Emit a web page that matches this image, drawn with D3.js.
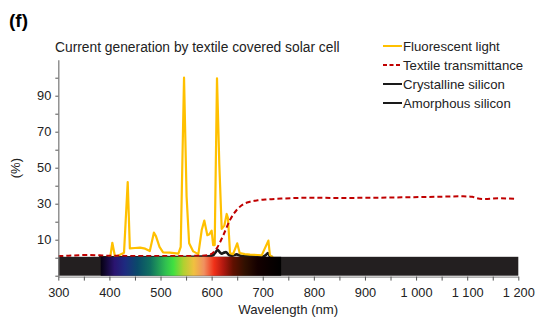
<!DOCTYPE html>
<html>
<head>
<meta charset="utf-8">
<script src="https://cdn.jsdelivr.net/npm/d3@7"></script>
<style>
  body { margin: 0; background: #fff; }
  text { font-family: Arial, "Liberation Sans", sans-serif; }
</style>
</head>
<body>
<div id="chart"></div>
<script>
// wavelength (nm) / value (%) pairs
let fluoWl  = [398, 402, 405.7, 411, 420, 428.6, 435.8, 440, 450, 460, 470, 479, 487, 491, 498, 505, 518, 535, 539.5, 546, 551, 556, 564, 574, 580.6, 585.7, 591.6, 595.5, 600, 603, 606, 610.5, 615, 619.7, 625, 629.5, 632, 636, 642, 650, 655, 665, 675, 690, 698, 703, 711, 714, 720];
let fluoVal = [0,   1,   8.3,   0.5, 1.5, 2.8,   42,    5.2, 5.4, 5.6, 5,   3.7, 13.9, 12, 6,   3,   2.8, 2.3, 6,     100, 34,  8,   3.5, 2,   15.4,  20.6,  12.5,  13,    15,  7,   7,   99.7,  52,  16,    18,  24.3,  22,  2.5, 2,   8,   2.5, 2,   1.7, 1.5, 1.3, 4.5, 9.5, 1.5, 0];

let textWl  = [300, 320, 340, 360, 380, 400, 450, 500, 550, 580, 597, 610, 623, 636, 649, 662, 675, 690, 708, 740, 786, 850, 909, 1007, 1050, 1092, 1110, 1119, 1132, 1164, 1197];
let textVal = [0.9, 1.1, 1.4, 1.5, 1.3, 1.1, 1,   1,   1,   1.1, 1.8, 5.2, 12.6, 21, 26.5, 29.7, 31.1, 31.9, 32.4, 32.9, 33.3, 33.2, 33.3, 33.7, 33.9, 34.1, 33.8, 33,  32.6, 33,  32.6];

let siWl    = [380, 450, 550, 590, 603, 607, 612, 616, 619.7, 624, 628, 634.6, 640, 649, 655, 661, 680, 701, 706, 710, 714, 720];
let cSiVal  = [0.4, 0.4, 0.5, 0.8, 1.5, 3,   4.6, 3.2, 2.4,   3,   3.3, 1.5,   1.2, 2,   1.4, 1,   0.9, 0.8, 1.6, 2.8, 0.8, 0.4];
let aSiVal  = [0.3, 0.3, 0.4, 0.6, 1.2, 2.5, 4,   2.8, 2,     2.6, 2.9, 1.2,   1,   1.7, 1.1, 0.8, 0.7, 0.6, 1.3, 2.4, 0.6, 0.3];

let legendNames = ["Fluorescent light", "Textile transmittance", "Crystalline silicon", "Amorphous silicon"];
let xTicks = d3.range(300, 1201, 50);
let xLabels = [300, 400, 500, 600, 700, 800, 900, 1000, 1100, 1200];
let yTicks = d3.range(-10, 101, 10);
let yLabels = [10, 30, 50, 70, 90];

// visible spectrum colours across the bar
let specWl  = [383, 410, 430, 455, 480, 510, 525, 545, 565, 585, 605, 623, 642, 665, 690, 715, 736];
let specCol = ["#050010", "#2a1470", "#1e2a80", "#0a4a6a", "#107060", "#30c050", "#40e040", "#b0d030", "#f0c040", "#f09060", "#f03018", "#b01810", "#601000", "#301000", "#140000", "#080000", "#000000"];

let width = 551, height = 319;
let svg = d3.select("#chart").append("svg")
    .attr("width", width)
    .attr("height", height);

let x = d3.scaleLinear().domain([300, 1200]).range([58.3, 518.3]);
let y = d3.scaleLinear().domain([-10.5, 110]).range([276.6, 59.7]);

// panel letter + title
svg.append("text").attr("x", 9).attr("y", 27)
    .attr("font-size", "19px").attr("font-weight", "bold").text("(f)");
svg.append("text").attr("x", 55).attr("y", 52)
    .attr("font-size", "13.8px").attr("fill", "#222")
    .text("Current generation by textile covered solar cell");

// lines
let line = d3.line().x(d => x(d[0])).y(d => y(d[1])).curve(d3.curveMonotoneX);

svg.append("path")
    .datum(d3.zip(siWl, aSiVal))
    .attr("d", line).attr("fill", "none")
    .attr("stroke", "#1a1a1a").attr("stroke-width", 2);
svg.append("path")
    .datum(d3.zip(siWl, cSiVal))
    .attr("d", line).attr("fill", "none")
    .attr("stroke", "#1a1a1a").attr("stroke-width", 2);

svg.append("path")
    .datum(d3.zip(fluoWl, fluoVal))
    .attr("d", d3.line().x(d => x(d[0])).y(d => y(d[1])))
    .attr("fill", "none")
    .attr("stroke", "#ffc000").attr("stroke-width", 2.2)
    .attr("stroke-linejoin", "round");

svg.append("path")
    .datum(d3.zip(textWl, textVal))
    .attr("d", line).attr("fill", "none")
    .attr("stroke", "#c00000").attr("stroke-width", 2)
    .attr("stroke-dasharray", "5,3");

// spectrum bar
let grad = svg.append("defs").append("linearGradient")
    .attr("id", "spec").attr("x1", "0%").attr("x2", "100%");
specWl.forEach(function(w, i) {
    grad.append("stop")
        .attr("offset", ((w - specWl[0]) / (specWl[specWl.length - 1] - specWl[0]) * 100) + "%")
        .attr("stop-color", specCol[i]);
});

svg.append("rect")
    .attr("x", x(300)).attr("y", y(0.5))
    .attr("width", x(1200) - x(300)).attr("height", y(-10) - y(0.5))
    .attr("fill", "#231f20");
svg.append("rect")
    .attr("x", x(specWl[0])).attr("y", y(0.5))
    .attr("width", x(specWl[specWl.length - 1]) - x(specWl[0])).attr("height", y(-10) - y(0.5))
    .attr("fill", "url(#spec)");

// axes
let fmt = d3.formatLocale({decimal: ".", thousands: "\u00a0", grouping: [3], currency: ["", ""]}).format(",");

let xAxis = svg.append("g")
    .attr("transform", `translate(0,${y(-10.5)})`)
    .call(d3.axisBottom(x).tickValues(xTicks).tickSize(4).tickSizeOuter(0)
        .tickFormat(d => xLabels.includes(d) ? fmt(d) : ""));
xAxis.select(".domain").attr("stroke", "#808080");
xAxis.selectAll(".tick line").attr("stroke", "#555");
xAxis.selectAll("text").attr("font-size", "12.8px").attr("fill", "#222")
    .attr("font-family", "Arial, 'Liberation Sans', sans-serif").attr("dy", "1.05em");

let yAxis = svg.append("g")
    .attr("transform", `translate(${x(300)},0)`)
    .call(d3.axisLeft(y).tickValues(yTicks).tickSize(3).tickSizeOuter(0)
        .tickFormat(d => yLabels.includes(d) ? d : ""));
yAxis.select(".domain").attr("stroke", "#808080").attr("stroke-width", 1.3);
yAxis.selectAll(".tick line").attr("stroke", "#555");
yAxis.selectAll("text").attr("font-size", "12.8px").attr("fill", "#222")
    .attr("font-family", "Arial, 'Liberation Sans', sans-serif").attr("x", -7);

svg.append("text")
    .attr("transform", `translate(20,${(y(-10.5) + y(110)) / 2}) rotate(-90)`)
    .attr("text-anchor", "middle").attr("font-size", "13px").attr("fill", "#222")
    .text("(%)");
svg.append("text")
    .attr("x", (x(300) + x(1200)) / 2).attr("y", 314)
    .attr("text-anchor", "middle").attr("font-size", "13.2px").attr("fill", "#222")
    .text("Wavelength (nm)");

// legend
let legStyles = [
    {stroke: "#ffc000", dash: null},
    {stroke: "#c00000", dash: "4,2.5"},
    {stroke: "#1a1a1a", dash: null},
    {stroke: "#1a1a1a", dash: null}
];
legendNames.forEach(function(name, i) {
    let ly = 46 + i * 19;
    svg.append("line")
        .attr("x1", 383).attr("x2", 402).attr("y1", ly).attr("y2", ly)
        .attr("stroke", legStyles[i].stroke).attr("stroke-width", 2)
        .attr("stroke-dasharray", legStyles[i].dash);
    svg.append("text")
        .attr("x", 403).attr("y", ly + 4.5)
        .attr("font-size", "13.2px").attr("fill", "#222")
        .text(name);
});
</script>
</body>
</html>
